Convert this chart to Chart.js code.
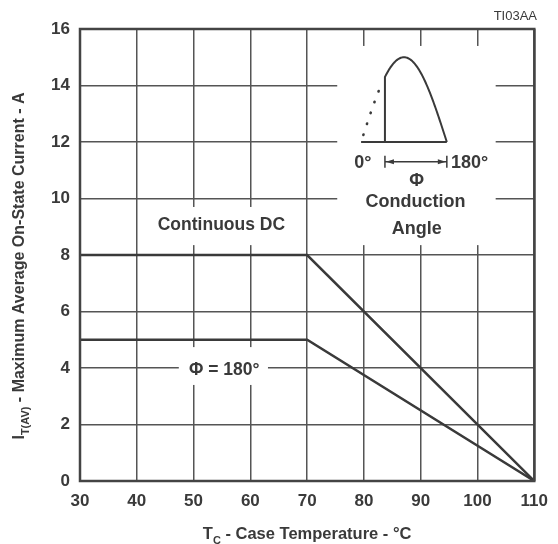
<!DOCTYPE html>
<html>
<head>
<meta charset="utf-8">
<script src="https://cdn.jsdelivr.net/npm/chart.js@4.4.0/dist/chart.umd.min.js"></script>
<style>
    html, body { margin: 0; padding: 0; background: #fff; }
    #wrap { width: 558px; height: 544px; }
</style>
</head>
<body>
<div id="wrap"><canvas id="chart" width="558" height="544"></canvas></div>
<script>
// Données
const temperatures = [30, 70, 110];
const courantDC = [8, 8, 0];
const courant180 = [5, 5, 0];
const xTicks = [30, 40, 50, 60, 70, 80, 90, 100, 110];
const yTicks = [0, 2, 4, 6, 8, 10, 12, 14, 16];

// Textes
const xTitle = [['T', false], ['C', true], [' - Case Temperature - \u00B0C', false]];
const yTitle = [['I', false], ['T(AV)', true], [' - Maximum Average On-State Current - A', false]];
const figRef = 'TI03AA';

// Annotations (en unités des axes)
const labels = [
    { text: 'Continuous DC', x: 54.9, y: 9.06, size: 17.5 },
    { text: '\u03A6 = 180\u00B0', x: 55.4, y: 3.93, size: 17.5 },
    { text: '0\u00B0', x: 79.8, y: 11.24, size: 18 },
    { text: '180\u00B0', x: 98.6, y: 11.25, size: 18 },
    { text: '\u03A6', x: 89.3, y: 10.63, size: 18 },
    { text: 'Conduction', x: 89.1, y: 9.89, size: 18 },
    { text: 'Angle', x: 89.3, y: 8.92, size: 18 }
];

// Zones où la grille est effacée derrière les textes
const blankZones = [
    { x0: 75.3, x1: 103.2, y0: 8.35, y1: 15.4 },
    { x0: 42, x1: 69, y0: 8.35, y1: 9.7 },
    { x0: 47.4, x1: 63.1, y0: 3.4, y1: 4.74 }
];

// Petit schéma de l'angle de conduction
const inset = { start: 79.5, cut: 83.7, end: 94.6, base: 12, peak: 15, arrowY: 11.3 };

const FONT = '"Liberation Sans", Arial, Helvetica, sans-serif';
const INK = '#3a3a3a';

function toPoints(xs, ys) {
    return xs.map((v, i) => ({ x: v, y: ys[i] }));
}

function drawRich(ctx, parts, cx, cy, size) {
    const subSize = Math.round(size * 0.68);
    let w = 0;
    parts.forEach(([t, sub]) => {
        ctx.font = 'bold ' + (sub ? subSize : size) + 'px ' + FONT;
        w += ctx.measureText(t).width;
    });
    let px = cx - w / 2;
    ctx.textAlign = 'left';
    ctx.textBaseline = 'alphabetic';
    parts.forEach(([t, sub]) => {
        ctx.font = 'bold ' + (sub ? subSize : size) + 'px ' + FONT;
        ctx.fillText(t, px, cy + size * 0.36 + (sub ? size * 0.3 : 0));
        px += ctx.measureText(t).width;
    });
}

const decorPlugin = {
    id: 'decor',
    beforeDatasetsDraw(chart) {
        const { ctx, scales: { x, y } } = chart;
        ctx.save();
        ctx.fillStyle = '#fff';
        blankZones.forEach(z => {
            const x0 = x.getPixelForValue(z.x0), x1 = x.getPixelForValue(z.x1);
            const y0 = y.getPixelForValue(z.y1), y1 = y.getPixelForValue(z.y0);
            ctx.fillRect(x0, y0, x1 - x0, y1 - y0);
        });
        ctx.restore();
    },
    afterDatasetsDraw(chart) {
        const { ctx, chartArea: a, scales: { x, y } } = chart;
        ctx.save();

        // cadre
        ctx.strokeStyle = '#444';
        ctx.lineWidth = 2.5;
        ctx.strokeRect(a.left, a.top, a.right - a.left, a.bottom - a.top);

        // textes dans le graphique
        ctx.fillStyle = INK;
        ctx.textAlign = 'center';
        ctx.textBaseline = 'middle';
        labels.forEach(l => {
            ctx.font = 'bold ' + l.size + 'px ' + FONT;
            ctx.fillText(l.text, x.getPixelForValue(l.x), y.getPixelForValue(l.y));
        });

        // schéma : demi-sinusoïde
        const wave = v => inset.base + (inset.peak - inset.base) *
            Math.sin(Math.PI * (v - inset.start) / (inset.end - inset.start));
        ctx.strokeStyle = INK;
        ctx.lineWidth = 2;
        ctx.lineJoin = 'round';
        ctx.beginPath();
        ctx.moveTo(x.getPixelForValue(inset.start), y.getPixelForValue(inset.base));
        ctx.lineTo(x.getPixelForValue(inset.end), y.getPixelForValue(inset.base));
        ctx.moveTo(x.getPixelForValue(inset.cut), y.getPixelForValue(inset.base));
        for (let v = inset.cut; v <= inset.end + 0.001; v += 0.1) {
            ctx.lineTo(x.getPixelForValue(v), y.getPixelForValue(wave(v)));
        }
        ctx.stroke();

        // partie pointillée
        ctx.setLineDash([0.5, 11]);
        ctx.lineCap = 'round';
        ctx.lineWidth = 2.6;
        ctx.beginPath();
        const v0 = inset.start + 0.4;
        ctx.moveTo(x.getPixelForValue(v0), y.getPixelForValue(wave(v0)));
        for (let v = v0; v <= inset.cut - 0.4; v += 0.05) {
            ctx.lineTo(x.getPixelForValue(v), y.getPixelForValue(wave(v)));
        }
        ctx.stroke();
        ctx.setLineDash([]);
        ctx.lineCap = 'butt';

        // flèche de l'angle
        const ay = y.getPixelForValue(inset.arrowY);
        const ax0 = x.getPixelForValue(inset.cut), ax1 = x.getPixelForValue(inset.end);
        ctx.lineWidth = 1.5;
        ctx.beginPath();
        ctx.moveTo(ax0, ay - 6); ctx.lineTo(ax0, ay + 6);
        ctx.moveTo(ax1, ay - 6); ctx.lineTo(ax1, ay + 6);
        ctx.moveTo(ax0, ay); ctx.lineTo(ax1, ay);
        ctx.stroke();
        ctx.fillStyle = INK;
        ctx.beginPath();
        ctx.moveTo(ax0 + 1, ay); ctx.lineTo(ax0 + 9, ay - 2.5); ctx.lineTo(ax0 + 9, ay + 2.5);
        ctx.closePath();
        ctx.moveTo(ax1 - 1, ay); ctx.lineTo(ax1 - 9, ay - 2.5); ctx.lineTo(ax1 - 9, ay + 2.5);
        ctx.closePath();
        ctx.fill();

        // titres des axes
        ctx.fillStyle = INK;
        drawRich(ctx, xTitle, (a.left + a.right) / 2, 533, 16.5);
        ctx.save();
        ctx.translate(18, 266);
        ctx.rotate(-Math.PI / 2);
        drawRich(ctx, yTitle, 0, 0, 16);
        ctx.restore();

        // référence de la figure
        ctx.font = '13px ' + FONT;
        ctx.textAlign = 'right';
        ctx.textBaseline = 'middle';
        ctx.fillText(figRef, 537, 16);

        ctx.restore();
    }
};

const tickFont = { family: FONT, size: 17, weight: 'bold' };

new Chart(document.getElementById('chart'), {
    type: 'line',
    data: {
        datasets: [
            { label: 'Continuous DC', data: toPoints(temperatures, courantDC) },
            { label: '\u03A6 = 180\u00B0', data: toPoints(temperatures, courant180) }
        ]
    },
    options: {
        responsive: false,
        animation: false,
        layout: { padding: { top: 29, right: 19, left: 0, bottom: 0 } },
        elements: {
            line: { borderColor: INK, borderWidth: 2.5, tension: 0 },
            point: { radius: 0 }
        },
        plugins: { legend: { display: false }, tooltip: { enabled: false } },
        scales: {
            x: {
                type: 'linear',
                min: 30, max: 110,
                afterBuildTicks: s => { s.ticks = xTicks.map(v => ({ value: v })); },
                afterFit: s => { s.height = 63; },
                grid: { color: '#555', lineWidth: 1.5, drawTicks: false },
                border: { display: false },
                ticks: { font: tickFont, color: INK, padding: 10, maxRotation: 0 }
            },
            y: {
                type: 'linear',
                min: 0, max: 16,
                afterBuildTicks: s => { s.ticks = yTicks.map(v => ({ value: v })); },
                afterFit: s => { s.width = 80; },
                grid: { color: '#555', lineWidth: 1.5, drawTicks: false },
                border: { display: false },
                ticks: { font: tickFont, color: INK, padding: 10 }
            }
        }
    },
    plugins: [decorPlugin]
});
</script>
</body>
</html>
